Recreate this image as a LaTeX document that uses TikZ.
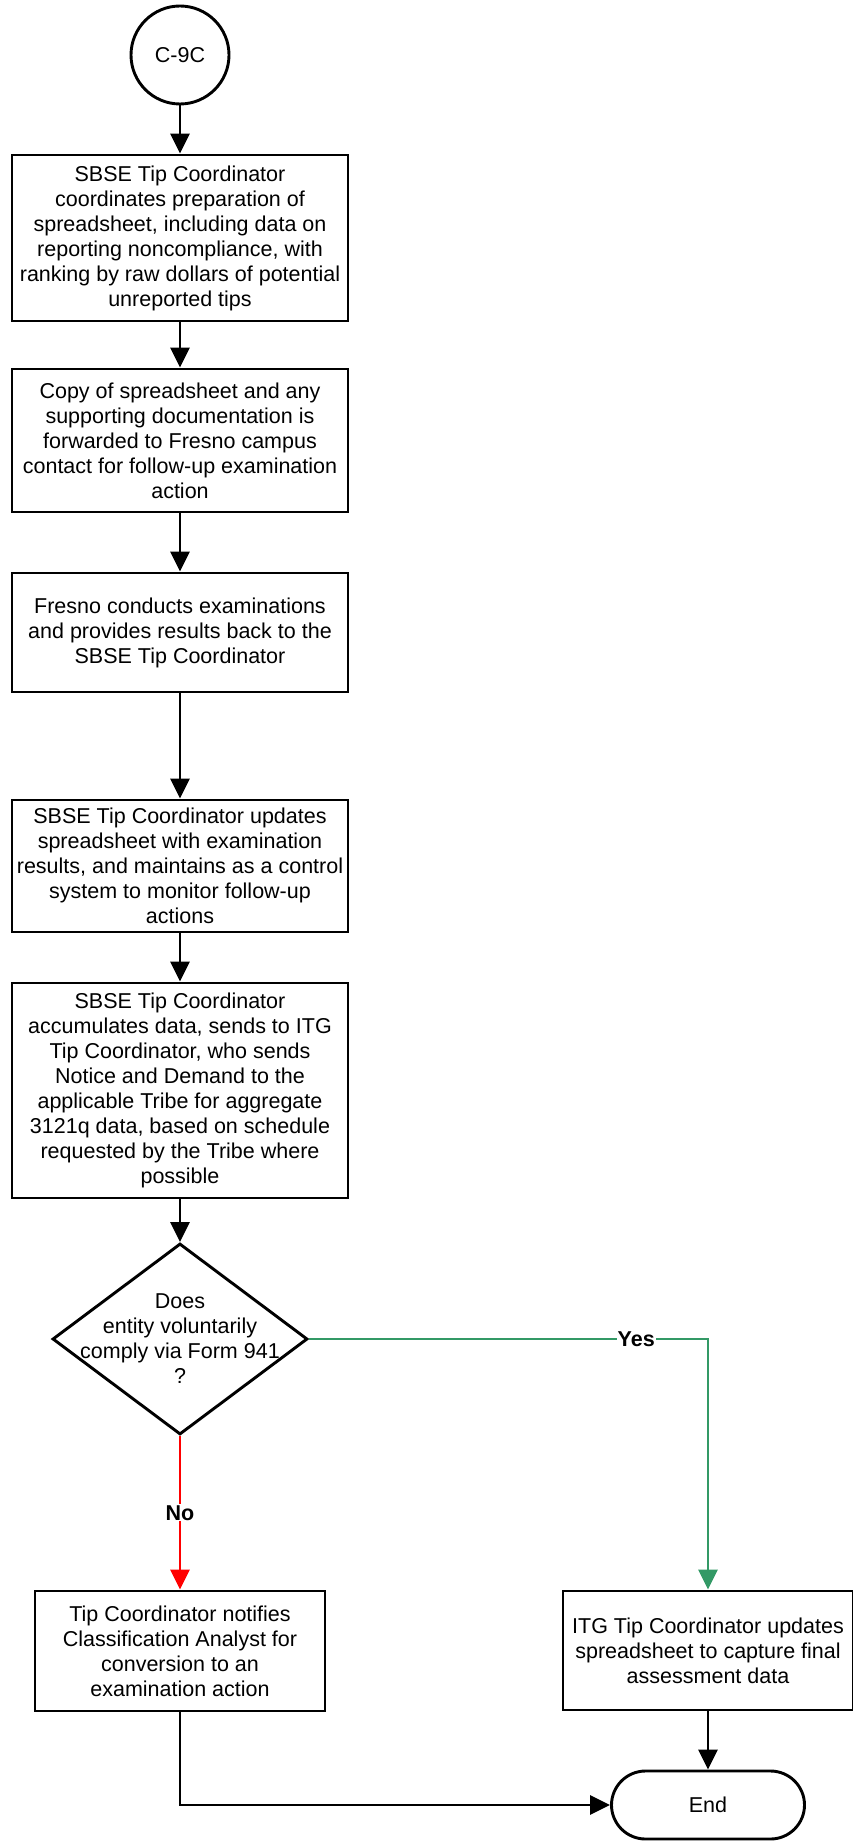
\documentclass[tikz,border=0pt]{standalone}
\usepackage{fontspec}
\setmainfont{Liberation Sans}
\usepackage{tikz}
\usetikzlibrary{arrows.meta,positioning,shapes.geometric,calc}
\usepackage{xcolor}
\definecolor{yesgreen}{RGB}{51,153,102}
\definecolor{nored}{RGB}{255,0,0}

\begin{document}
\begin{tikzpicture}[
    x=1pt, y=-1pt,
    box/.style={draw, line width=2.9pt, rectangle, align=center, inner sep=2pt, font=\fontsize{21.5}{25}\selectfont},
    decision/.style={draw, line width=2.9pt, diamond, inner sep=0pt, minimum width=255pt, minimum height=191pt},
    terminal/.style={draw, line width=2.9pt, rounded corners=34pt, minimum width=193pt, minimum height=68pt, font=\fontsize{21.5}{25}\selectfont},
    arrow/.style={-{Triangle[length=20pt, width=19pt]}, line width=2.9pt},
    answer/.style={fill=white, inner sep=1pt, font=\bfseries\fontsize{21.5}{25}\selectfont}
]
\useasboundingbox (0,0) rectangle (853,1843);

% Off-page connector
\node[draw, line width=2.9pt, circle, minimum size=98pt, inner sep=0pt, font=\fontsize{21.5}{25}\selectfont] (C9C) at (180,55) {C-9C};

% Main column
\node[box, minimum width=336pt, minimum height=166pt] (prep) at (180,238) {SBSE Tip Coordinator\\coordinates preparation of\\spreadsheet, including data on\\reporting noncompliance, with\\ranking by raw dollars of potential\\unreported tips};
\node[box, minimum width=336pt, minimum height=143pt] (copy) at (180,440.5) {Copy of spreadsheet and any\\supporting documentation is\\forwarded to Fresno campus\\contact for follow-up examination\\action};
\node[box, minimum width=336pt, minimum height=119pt] (fresno) at (180,632.5) {Fresno conducts examinations\\and provides results back to the\\SBSE Tip Coordinator};
\node[box, minimum width=336pt, minimum height=132pt] (update) at (180,866) {SBSE Tip Coordinator updates\\spreadsheet with examination\\results, and maintains as a control\\system to monitor follow-up\\actions};
\node[box, minimum width=336pt, minimum height=215pt] (accum) at (180,1090.5) {SBSE Tip Coordinator\\accumulates data, sends to ITG\\Tip Coordinator, who sends\\Notice and Demand to the\\applicable Tribe for aggregate\\3121q data, based on schedule\\requested by the Tribe where\\possible};

% Decision
\node[decision, label={[align=center, font=\fontsize{21.5}{25}\selectfont]center:Does\\entity voluntarily\\comply via Form 941\\?}] (comply) at (180,1339) {};

% Outcomes
\node[box, minimum width=290pt, minimum height=120pt] (notify) at (180,1651) {Tip Coordinator notifies\\Classification Analyst for\\conversion to an\\examination action};
\node[box, minimum width=290pt, minimum height=119pt] (itg) at (708,1650.5) {ITG Tip Coordinator updates\\spreadsheet to capture final\\assessment data};
\node[terminal] (End) at (708,1805) {End};

% Arrows
\draw[arrow] (C9C) -- (prep);
\draw[arrow] (prep) -- (copy);
\draw[arrow] (copy) -- (fresno);
\draw[arrow] (fresno) -- (update);
\draw[arrow] (update) -- (accum);
\draw[arrow] (accum) -- (comply);
\draw[arrow, nored] (comply.south) -- (notify.north) node[answer, midway, text=black] {No};
\draw[arrow, yesgreen] (comply.east) -| (itg.north) node[answer, pos=0.41, text=black] {Yes};
\draw[arrow] (itg) -- (End);
\draw[arrow] (notify.south) |- (End.west);

\end{tikzpicture}
\end{document}
